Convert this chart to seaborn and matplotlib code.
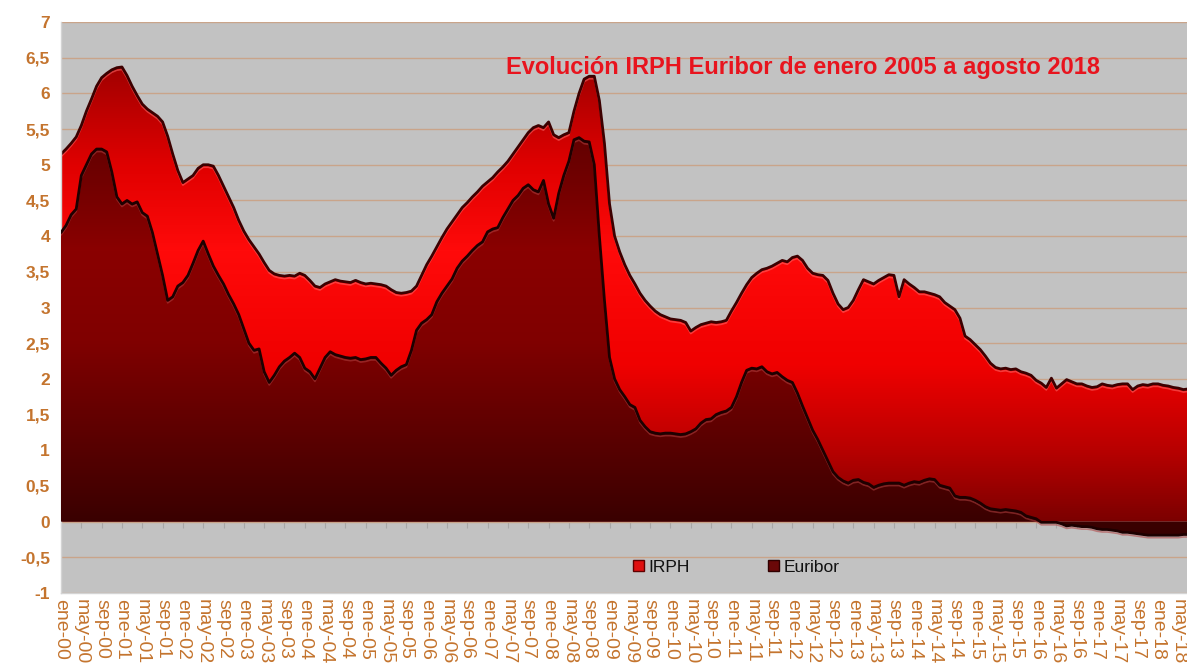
import numpy as np
import pandas as pd
import matplotlib
matplotlib.use('Agg')
import matplotlib.pyplot as plt
import seaborn as sns
from matplotlib.colors import LinearSegmentedColormap
from matplotlib.patches import Patch
from matplotlib.transforms import offset_copy

# valores mensuales ene-00 .. ago-18
irph = [
    5.15, 5.22, 5.30, 5.39, 5.55, 5.75, 5.92, 6.10, 6.22, 6.28, 6.33, 6.36,   # 2000
    6.37, 6.25, 6.10, 5.97, 5.85, 5.78, 5.73, 5.68, 5.60, 5.40, 5.15, 4.92,   # 2001
    4.75, 4.80, 4.85, 4.95, 5.00, 5.00, 4.98, 4.85, 4.70, 4.55, 4.40, 4.22,   # 2002
    4.07, 3.95, 3.85, 3.75, 3.63, 3.52, 3.47, 3.45, 3.44, 3.45, 3.44, 3.48,   # 2003
    3.45, 3.38, 3.30, 3.28, 3.33, 3.36, 3.39, 3.37, 3.36, 3.35, 3.38, 3.35,   # 2004
    3.33, 3.34, 3.33, 3.32, 3.30, 3.25, 3.21, 3.20, 3.21, 3.23, 3.30, 3.45,   # 2005
    3.60, 3.72, 3.85, 3.98, 4.10, 4.20, 4.30, 4.40, 4.47, 4.55, 4.62, 4.70,   # 2006
    4.76, 4.82, 4.90, 4.97, 5.05, 5.15, 5.25, 5.35, 5.45, 5.52, 5.55, 5.52,   # 2007
    5.60, 5.42, 5.38, 5.42, 5.45, 5.75, 6.00, 6.20, 6.24, 6.24, 5.90, 5.30,   # 2008
    4.45, 4.00, 3.78, 3.60, 3.45, 3.33, 3.20, 3.10, 3.02, 2.95, 2.90, 2.87,   # 2009
    2.84, 2.83, 2.82, 2.79, 2.67, 2.72, 2.76, 2.78, 2.80, 2.79, 2.80, 2.82,   # 2010
    2.95, 3.07, 3.20, 3.32, 3.42, 3.48, 3.53, 3.55, 3.58, 3.62, 3.66, 3.64,   # 2011
    3.70, 3.72, 3.66, 3.55, 3.48, 3.46, 3.45, 3.38, 3.20, 3.05, 2.97, 3.00,   # 2012
    3.10, 3.25, 3.39, 3.36, 3.33, 3.38, 3.42, 3.46, 3.45, 3.15, 3.39, 3.33,   # 2013
    3.28, 3.22, 3.22, 3.20, 3.18, 3.15, 3.07, 3.02, 2.97, 2.85, 2.60, 2.55,   # 2014
    2.48, 2.41, 2.32, 2.22, 2.16, 2.14, 2.15, 2.13, 2.14, 2.10, 2.08, 2.05,   # 2015
    1.98, 1.94, 1.88, 2.01, 1.87, 1.93, 1.99, 1.96, 1.93, 1.93, 1.90, 1.88,   # 2016
    1.89, 1.93, 1.91, 1.90, 1.92, 1.93, 1.93, 1.85, 1.90, 1.92, 1.91, 1.93,   # 2017
    1.93, 1.91, 1.90, 1.88, 1.87, 1.85, 1.86, 1.85,                           # 2018
]

euribor = [
    4.05, 4.15, 4.30, 4.38, 4.85, 5.00, 5.15, 5.22, 5.22, 5.18, 4.90, 4.55,   # 2000
    4.45, 4.50, 4.45, 4.48, 4.33, 4.28, 4.05, 3.75, 3.45, 3.10, 3.15, 3.30,   # 2001
    3.35, 3.45, 3.62, 3.80, 3.93, 3.75, 3.58, 3.45, 3.33, 3.18, 3.05, 2.90,   # 2002
    2.70, 2.50, 2.40, 2.42, 2.10, 1.95, 2.05, 2.17, 2.25, 2.30, 2.36, 2.30,   # 2003
    2.15, 2.10, 2.00, 2.15, 2.30, 2.38, 2.34, 2.32, 2.30, 2.29, 2.30, 2.27,   # 2004
    2.28, 2.30, 2.30, 2.22, 2.15, 2.05, 2.12, 2.17, 2.20, 2.40, 2.68, 2.78,   # 2005
    2.83, 2.90, 3.08, 3.20, 3.30, 3.40, 3.55, 3.65, 3.72, 3.80, 3.87, 3.92,   # 2006
    4.06, 4.10, 4.12, 4.26, 4.38, 4.50, 4.57, 4.67, 4.72, 4.65, 4.62, 4.78,   # 2007
    4.45, 4.25, 4.60, 4.85, 5.05, 5.35, 5.38, 5.33, 5.32, 5.00, 4.00, 3.10,   # 2008
    2.30, 2.00, 1.85, 1.75, 1.64, 1.60, 1.42, 1.33, 1.26, 1.24, 1.23, 1.24,   # 2009
    1.24, 1.23, 1.22, 1.23, 1.26, 1.30, 1.38, 1.43, 1.44, 1.50, 1.53, 1.55,   # 2010
    1.60, 1.75, 1.95, 2.12, 2.15, 2.14, 2.17, 2.10, 2.07, 2.09, 2.03, 1.98,   # 2011
    1.95, 1.80, 1.62, 1.45, 1.28, 1.15, 1.00, 0.85, 0.70, 0.62, 0.57, 0.54,   # 2012
    0.58, 0.59, 0.55, 0.53, 0.48, 0.51, 0.53, 0.54, 0.54, 0.54, 0.51, 0.54,   # 2013
    0.56, 0.55, 0.58, 0.60, 0.59, 0.51, 0.49, 0.47, 0.36, 0.34, 0.34, 0.33,   # 2014
    0.30, 0.26, 0.21, 0.18, 0.17, 0.16, 0.17, 0.16, 0.15, 0.13, 0.08, 0.06,   # 2015
    0.04, -0.01, -0.01, -0.01, -0.01, -0.03, -0.06, -0.05, -0.06, -0.07, -0.07, -0.08,   # 2016
    -0.10, -0.11, -0.11, -0.12, -0.13, -0.15, -0.15, -0.16, -0.17, -0.18, -0.19, -0.19,  # 2017
    -0.19, -0.19, -0.19, -0.19, -0.19, -0.18, -0.18, -0.17,                             # 2018
]

meses = ['ene', 'may', 'sep']
anios = list(range(0, 19))
etiquetas = [f'{mes}-{a:02d}' for a in anios for mes in meses][:56]   # ene-00 .. may-18
titulo = 'Evolución IRPH Euribor de enero 2005 a agosto 2018'

df = pd.DataFrame({'mes': np.arange(len(irph)), 'IRPH': irph, 'Euribor': euribor})

sns.set_theme(style='white')
plt.rcParams['font.family'] = ['Liberation Sans', 'DejaVu Sans']

W, H = 1187, 670
fig = plt.figure(figsize=(W / 100, H / 100), dpi=100)
fig.patch.set_facecolor('white')
ax = fig.add_axes([61 / W, 1 - 593 / H, 1 - 61 / W, (593 - 22) / H])
ax.set_facecolor('#c2c2c2')

# gradientes (posicion = (valor + 1) / 8)
col_irph = [(0.0, '#500000'), (0.125, '#7c0000'), (0.25, '#b80000'), (0.40, '#f00000'),
            (0.60, '#ff0a0a'), (0.75, '#e00000'), (0.925, '#a00000'), (1.0, '#900000')]
col_eur = [(0.0, '#300000'), (0.125, '#3a0000'), (0.25, '#560000'), (0.44, '#800000'),
           (0.6, '#8a0000'), (0.79, '#640000'), (1.0, '#500000')]


def area(col, colores, borde, brillo, z):
    poly = ax.fill_between(df['mes'], 0, df[col], facecolor='none', edgecolor='none', zorder=z)
    cmap = LinearSegmentedColormap.from_list(col, colores)
    grad = np.linspace(0, 1, 512).reshape(-1, 1)
    im = ax.imshow(grad, cmap=cmap, aspect='auto', origin='lower',
                   extent=[df['mes'].min(), df['mes'].max(), -1, 7], zorder=z)
    im.set_clip_path(poly.get_paths()[0], transform=ax.transData)
    # brillo bajo el borde (efecto bisel)
    ax.plot(df['mes'], df[col], color=brillo, linewidth=1.2, alpha=0.55, zorder=z + 0.2,
            transform=offset_copy(ax.transData, fig=fig, x=0, y=-2.5, units='dots'))
    sns.lineplot(data=df, x='mes', y=col, color=borde, linewidth=2.0, ax=ax, zorder=z + 0.4)


area('IRPH', col_irph, '#3c0000', '#ff6a6a', 2)
area('Euribor', col_eur, '#1e0000', '#b04040', 4)

ax.set_xlim(0, 221.7)
ax.set_ylim(-1, 7)
ax.set_xlabel('')
ax.set_ylabel('')

naranja = '#c4742e'
ax.set_xticks(range(0, 4 * len(etiquetas), 4))
ax.set_xticklabels(etiquetas, rotation=-90, color=naranja, fontsize=14)
yt = np.arange(-1, 7.01, 0.5)
ax.set_yticks(yt)
ax.set_yticklabels([f'{v:g}'.replace('.', ',') for v in yt], color=naranja,
                   fontsize=12.5, fontweight='bold')
ax.tick_params(axis='x', length=0, pad=4)
ax.tick_params(axis='y', length=5, width=1, color='#b0b0b0', pad=3)

ax.yaxis.grid(True, color='#c9a48a', linewidth=1)
ax.xaxis.grid(False)
ax.set_axisbelow(True)
for s in ['top', 'right']:
    ax.spines[s].set_visible(False)
for s in ['left', 'bottom']:
    ax.spines[s].set_color('#d4d4d4')
    ax.spines[s].set_linewidth(1)

# marcas del eje de categorias sobre el 0
sec = ax.secondary_xaxis(1 / 8)
sec.set_xticks(range(0, 4 * len(etiquetas), 4))
sec.tick_params(axis='x', length=4, width=0.8, color='#a8a8a8', labelbottom=False, labeltop=False)
for s in sec.spines.values():
    s.set_visible(False)

ax.text(0.659, 0.921, titulo, transform=ax.transAxes, ha='center', va='center',
        color='#e8141e', fontsize=17, fontweight='bold', zorder=10)

handles = [Patch(facecolor='#e01010', edgecolor='#600000', label='IRPH'),
           Patch(facecolor='#6a0808', edgecolor='#300000', label='Euribor')]
ax.legend(handles=handles, loc='center', bbox_to_anchor=(0.6, 0.045), ncol=2, frameon=False,
          fontsize=12.5, handlelength=0.6, handleheight=0.6, handletextpad=0.3,
          columnspacing=4.5, labelcolor='#111111')

fig.savefig('out.png', dpi=100)
